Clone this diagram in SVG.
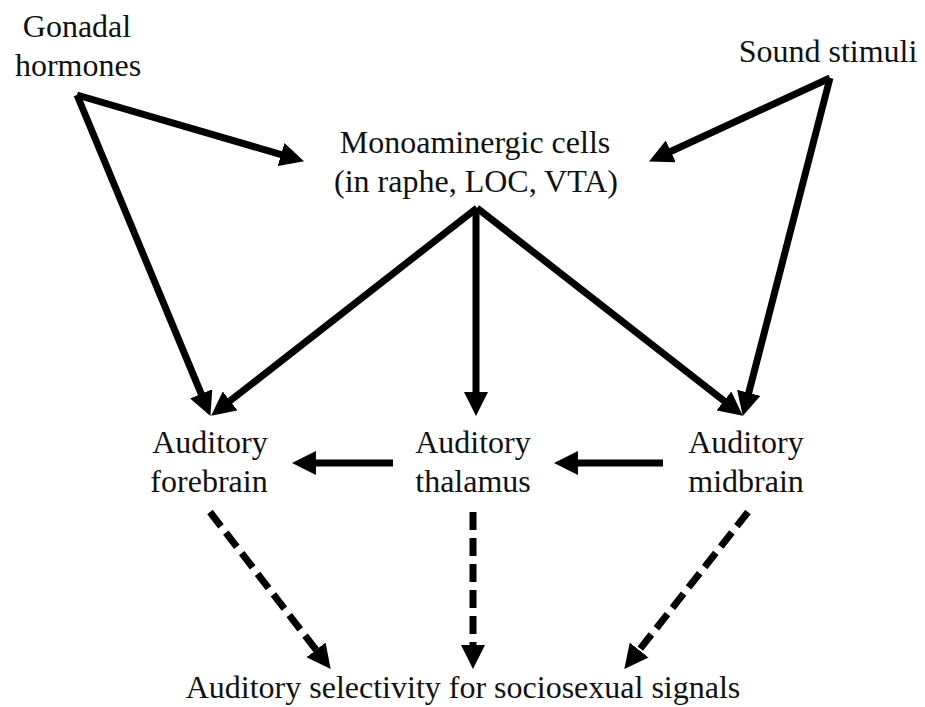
<svg xmlns="http://www.w3.org/2000/svg" width="925" height="707" viewBox="0 0 925 707">
<style>
text{font-family:"Liberation Serif","Times New Roman",serif;font-size:32px;fill:#111;text-anchor:middle}
.c{stroke:#000;stroke-width:7;fill:none;marker-end:url(#ah)}
.d{stroke-dasharray:18 8}
</style>
<defs>
<marker id="ah" markerUnits="userSpaceOnUse" markerWidth="24" markerHeight="24" refX="10" refY="11" orient="auto" viewBox="0 0 22 22">
<path d="M0,0 L22,11 L0,22 z" fill="#000"/>
</marker>
</defs>
<rect width="925" height="707" fill="#fff"/>
<g id="connectors">
<line class="c" x1="77" y1="95" x2="291.5" y2="157.6"/>
<line class="c" x1="77" y1="95" x2="205.4" y2="403.9"/>
<line class="c" x1="830" y1="78" x2="660.9" y2="156"/>
<line class="c" x1="830" y1="78" x2="746" y2="403.4"/>
<line class="c" x1="477" y1="208" x2="221.5" y2="407.6"/>
<line class="c" x1="476" y1="208" x2="476" y2="403"/>
<line class="c" x1="477" y1="208" x2="732.5" y2="407.6"/>
<line class="c" x1="393" y1="463" x2="305" y2="463"/>
<line class="c" x1="663" y1="463" x2="567" y2="463"/>
<line class="c d" x1="210" y1="512" x2="322.7" y2="658.5"/>
<line class="c d" x1="473" y1="512" x2="473" y2="656"/>
<line class="c d" x1="748" y1="512" x2="632.4" y2="658.6"/>
</g>
<g id="gonadal"><text x="77" y="37">Gonadal</text><text x="78" y="76">hormones</text></g>
<g id="sound"><text x="828" y="62">Sound stimuli</text></g>
<g id="monoamine"><text x="475" y="153">Monoaminergic cells</text><text x="476" y="192">(in raphe, LOC, VTA)</text></g>
<g id="forebrain"><text x="210" y="453">Auditory</text><text x="209" y="492">forebrain</text></g>
<g id="thalamus"><text x="473" y="453">Auditory</text><text x="473" y="492">thalamus</text></g>
<g id="midbrain"><text x="746" y="453">Auditory</text><text x="746" y="492">midbrain</text></g>
<g id="selectivity"><text x="463" y="698">Auditory selectivity for sociosexual signals</text></g>
</svg>
